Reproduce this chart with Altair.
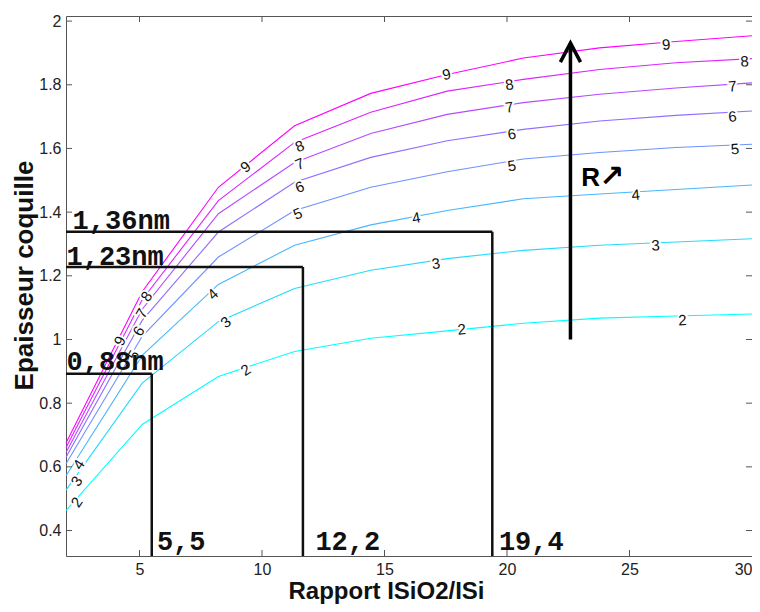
import altair as alt
import pandas as pd

# ---------------- data ----------------
x_grid = [2.0, 5.11, 8.22, 11.33, 14.44, 17.56, 20.67, 23.78, 26.89, 30.0]
levels = [2, 3, 4, 5, 6, 7, 8, 9]
curve_2 = [0.4625, 0.733, 0.884, 0.9625, 1.004, 1.027, 1.051, 1.067, 1.074, 1.080]
curve_3 = [0.527, 0.863, 1.056, 1.160, 1.2175, 1.254, 1.280, 1.296, 1.306, 1.3165]
curve_4 = [0.572, 0.950, 1.173, 1.296, 1.360, 1.405, 1.442, 1.457, 1.471, 1.485]
curve_5 = [0.610, 1.010, 1.259, 1.405, 1.478, 1.527, 1.567, 1.5875, 1.603, 1.613]
curve_6 = [0.630, 1.060, 1.3375, 1.494, 1.572, 1.624, 1.660, 1.686, 1.704, 1.7175]
curve_7 = [0.645, 1.095, 1.395, 1.556, 1.647, 1.707, 1.744, 1.770, 1.790, 1.806]
curve_8 = [0.660, 1.125, 1.436, 1.619, 1.714, 1.780, 1.817, 1.848, 1.869, 1.882]
curve_9 = [0.675, 1.150, 1.478, 1.671, 1.773, 1.832, 1.884, 1.916, 1.936, 1.954]
curves = [curve_2, curve_3, curve_4, curve_5, curve_6, curve_7, curve_8, curve_9]
level_colors = ["#00ffff", "#24dbff", "#49b6ff", "#6d92ff", "#926dff", "#b649ff", "#db24ff", "#ff00ff"]

# contour labels (inline, as clabel draws them)
label_text = ["9", "9", "9", "8", "8", "8", "7", "7", "7", "6", "6", "6", "5", "5", "5",
              "4", "4", "4", "3", "3", "3", "2", "2", "2",
              "2", "3", "4", "9", "5", "6", "7", "8"]
label_x = [9.33, 17.53, 26.5, 11.54, 20.1, 29.7, 11.54, 20.1, 29.2, 11.54, 20.2, 29.2, 11.46, 20.2, 29.3,
           8.0, 16.3, 25.25, 8.52, 17.1, 26.06, 9.34, 18.15, 27.16,
           2.44, 2.44, 2.52, 4.2, 4.76, 4.97, 5.09, 5.29]
label_y = [1.542, 1.832, 1.926, 1.607, 1.80, 1.873, 1.551, 1.729, 1.795, 1.479, 1.645, 1.70, 1.395, 1.545, 1.598,
           1.142, 1.382, 1.454, 1.054, 1.238, 1.295, 0.904, 1.032, 1.06,
           0.489, 0.555, 0.607, 0.995, 0.951, 1.026, 1.082, 1.135]
label_angle = [321, 348, 355, 338, 352, 356, 338, 351, 355, 338, 351, 355, 338, 351, 355,
               317, 350, 355, 321, 352, 356, 327, 355, 357,
               305, 305, 303, 297, 300, 300, 300, 305]

# annotation boxes
box_x = [5.5, 11.67, 19.4]
box_y = [0.8925, 1.228, 1.338]
box_ylabels = ["0,88nm", "1,23nm", "1,36nm"]
box_ylabel_x = [2.02, 2.02, 2.27]
box_ylabel_y = [0.904, 1.233, 1.3456]
box_xlabels = ["5,5", "12,2", "19,4"]
box_xlabel_x = [5.71, 12.18, 19.67]
box_xlabel_y = [0.339, 0.339, 0.339]

arrow_x = 22.59
arrow_y = [1.0, 1.931]
arrow_letter = "R"
arrow_letter_pos = [23.03, 1.481]
arrow_glyph = "\u2197"
arrow_glyph_pos = [23.76, 1.481]

x_ticks = [5, 10, 15, 20, 25, 30]
y_ticks = [0.4, 0.6, 0.8, 1.0, 1.2, 1.4, 1.6, 1.8, 2.0]
X_DOMAIN = [2, 30]
Y_DOMAIN = [0.32, 2.016]

# ---------------- tables ----------------
rows = []
for lev, ys in zip(levels, curves):
    for xv, yv in zip(x_grid, ys):
        rows.append({"x": xv, "y": yv, "level": lev})
df_lines = pd.DataFrame(rows)

df_labels = pd.DataFrame({"x": label_x, "y": label_y, "t": label_text, "a": label_angle})

seg = []
for bx, by in zip(box_x, box_y):
    seg.append({"x": X_DOMAIN[0], "x2": bx, "y": by, "y2": by})
    seg.append({"x": bx, "x2": bx, "y": Y_DOMAIN[0], "y2": by})
df_seg = pd.DataFrame(seg)

df_blab = pd.DataFrame({"x": box_ylabel_x + box_xlabel_x,
                        "y": box_ylabel_y + box_xlabel_y,
                        "t": box_ylabels + box_xlabels})

df_arrow = pd.DataFrame({"x": [arrow_x], "y": [arrow_y[0]], "y2": [arrow_y[1]]})
df_tip = pd.DataFrame({"x": [arrow_x], "y": [arrow_y[1]]})
df_rletter = pd.DataFrame({"x": [arrow_letter_pos[0]], "y": [arrow_letter_pos[1]], "t": [arrow_letter]})
df_rglyph = pd.DataFrame({"x": [arrow_glyph_pos[0]], "y": [arrow_glyph_pos[1]], "t": [arrow_glyph]})

df_xt = pd.DataFrame({"v": x_ticks[:-1]})
df_yt = pd.DataFrame({"v": y_ticks})

W, H = 686, 540
xs = alt.Scale(domain=X_DOMAIN, nice=False, zero=False)
ys_ = alt.Scale(domain=Y_DOMAIN, nice=False, zero=False)

FONT = "Liberation Sans"
x_axis = alt.Axis(values=x_ticks, ticks=False, domain=False, grid=False, labelFlush=True,
                  labelFont=FONT, labelFontSize=16, labelColor="#222", labelPadding=5,
                  title="Rapport ISiO2/ISi", titleFont=FONT, titleFontSize=24, titleFontWeight="bold",
                  titleColor="#111", titleX=320, titleY=42, titleAlign="center",
                  titleBaseline="alphabetic", titleAngle=0)
y_axis = alt.Axis(values=y_ticks, format="~g", ticks=False, domain=False, grid=False,
                  labelFont=FONT, labelFontSize=16, labelColor="#222", labelPadding=5,
                  title="Epaisseur coquille", titleFont=FONT, titleFontSize=26, titleFontWeight="bold",
                  titleColor="#111", titleX=-34, titleY=259, titleAlign="center",
                  titleBaseline="alphabetic", titleAngle=270)

lines = alt.Chart(df_lines).mark_line(strokeWidth=1.1).encode(
    x=alt.X("x:Q", scale=xs, axis=x_axis),
    y=alt.Y("y:Q", scale=ys_, axis=y_axis),
    color=alt.Color("level:O", scale=alt.Scale(domain=levels, range=level_colors), legend=None),
    order=alt.Order("x:Q"),
)

halo = alt.Chart(df_labels).mark_text(font=FONT, fontSize=15, stroke="white", strokeWidth=4,
                                      fill="white", align="center", baseline="middle").encode(
    x=alt.X("x:Q", scale=xs), y=alt.Y("y:Q", scale=ys_), text="t:N",
    angle=alt.Angle("a:Q", scale=None))
labels = alt.Chart(df_labels).mark_text(font=FONT, fontSize=15, color="#111",
                                        align="center", baseline="middle").encode(
    x=alt.X("x:Q", scale=xs), y=alt.Y("y:Q", scale=ys_), text="t:N",
    angle=alt.Angle("a:Q", scale=None))

segs = alt.Chart(df_seg).mark_rule(color="#111", strokeWidth=2.5).encode(
    x=alt.X("x:Q", scale=xs), x2="x2:Q", y=alt.Y("y:Q", scale=ys_), y2="y2:Q")

blab = alt.Chart(df_blab).mark_text(font="Liberation Mono", fontSize=27, fontWeight="bold",
                                    color="#111", align="left", baseline="alphabetic").encode(
    x=alt.X("x:Q", scale=xs), y=alt.Y("y:Q", scale=ys_), text="t:N")

arrow = alt.Chart(df_arrow).mark_rule(color="black", strokeWidth=3.5).encode(
    x=alt.X("x:Q", scale=xs), y=alt.Y("y:Q", scale=ys_), y2="y2:Q")
tip = alt.Chart(df_tip).mark_point(shape="M-0.53,1L0,0L0.53,1", size=1444, filled=False,
                                   color="black", strokeWidth=3.5, opacity=1).encode(
    x=alt.X("x:Q", scale=xs), y=alt.Y("y:Q", scale=ys_))
rletter = alt.Chart(df_rletter).mark_text(font=FONT, fontSize=26, fontWeight="bold", color="black",
                                          align="left", baseline="alphabetic").encode(
    x=alt.X("x:Q", scale=xs), y=alt.Y("y:Q", scale=ys_), text="t:N")
rglyph = alt.Chart(df_rglyph).mark_text(font="DejaVu Sans", fontSize=30, fontWeight="bold", color="black",
                                        align="left", baseline="alphabetic").encode(
    x=alt.X("x:Q", scale=xs), y=alt.Y("y:Q", scale=ys_), text="t:N")

TICK_C = "#555"
xt_bot = alt.Chart(df_xt).mark_rule(color=TICK_C, strokeWidth=1).encode(
    x=alt.X("v:Q", scale=xs), y=alt.value(H), y2=alt.value(H - 6))
xt_top = alt.Chart(df_xt).mark_rule(color=TICK_C, strokeWidth=1).encode(
    x=alt.X("v:Q", scale=xs), y=alt.value(0), y2=alt.value(6))
yt_l = alt.Chart(df_yt).mark_rule(color=TICK_C, strokeWidth=1).encode(
    y=alt.Y("v:Q", scale=ys_), x=alt.value(0), x2=alt.value(6))
yt_r = alt.Chart(df_yt).mark_rule(color=TICK_C, strokeWidth=1).encode(
    y=alt.Y("v:Q", scale=ys_), x=alt.value(W), x2=alt.value(W - 6))

chart = alt.layer(lines, halo, labels, segs, blab, arrow, tip, rletter, rglyph,
                  xt_bot, xt_top, yt_l, yt_r).properties(
    width=W, height=H, autosize="none",
    padding={"left": 58, "top": 8, "right": 0, "bottom": 48},
    background="white",
).configure_view(stroke="#555", strokeWidth=1)

chart.save("out.html", embed_options={"renderer": "svg", "actions": False})
